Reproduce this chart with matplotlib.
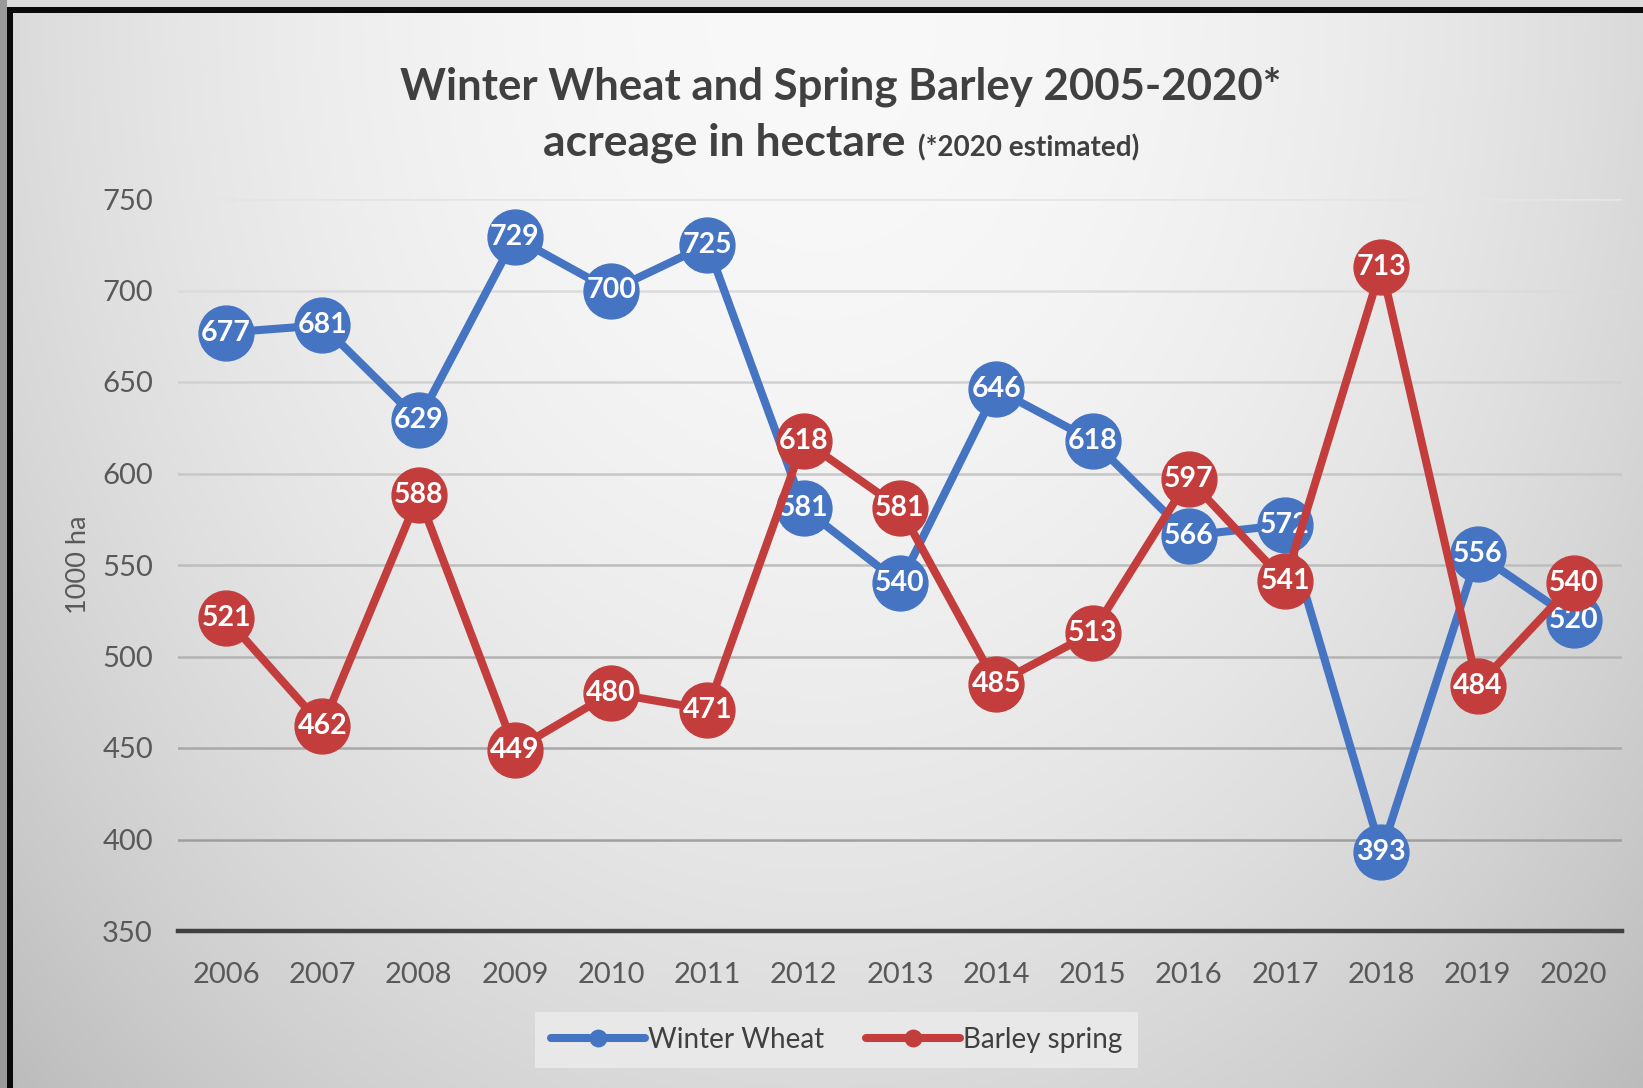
import numpy as np
import matplotlib
matplotlib.use("Agg")
import matplotlib.pyplot as plt
from matplotlib.patches import Rectangle

years = ["2006", "2007", "2008", "2009", "2010", "2011", "2012", "2013",
         "2014", "2015", "2016", "2017", "2018", "2019", "2020"]
winter_wheat = [677, 681, 629, 729, 700, 725, 581, 540, 646, 618, 566, 572, 393, 556, 520]
barley_spring = [521, 462, 588, 449, 480, 471, 618, 581, 485, 513, 597, 541, 713, 484, 540]
y_ticks = [350, 400, 450, 500, 550, 600, 650, 700, 750]

plt.rcParams['font.family'] = ['Lato', 'DejaVu Sans']

W, H = 1643, 1088
fig = plt.figure(figsize=(W / 100, H / 100), dpi=100)

# background gradient
bg = fig.add_axes([0, 0, 1, 1], zorder=-10)
gx, gy = np.meshgrid(np.linspace(0, 1, 400), np.linspace(1, 0, 300))
d2 = ((gx - 0.5) / 0.5) ** 2 + ((gy - 1.0) / 1.0) ** 2
val = np.clip(0.975 - 0.12 * d2, 0, 1)
bg.imshow(np.dstack([val, val, val]), aspect='auto', extent=[0, 1, 0, 1], interpolation='bilinear')
bg.set_xlim(0, 1); bg.set_ylim(0, 1); bg.axis('off')
# outer strip and black border (top and left)
bg.add_patch(Rectangle((0, 1 - 7 / H), 1, 7 / H, color='#dcdcdc', lw=0))
bg.add_patch(Rectangle((0, 0), 7 / W, 1, color='#9a9a9a', lw=0))
bg.add_patch(Rectangle((7 / W, 0), 6 / W, 1 - 7 / H, color='#0a0a0a', lw=0))
bg.add_patch(Rectangle((7 / W, 1 - 13 / H), 1, 6 / H, color='#0a0a0a', lw=0))

ax = fig.add_axes([178 / W, 1 - 931 / H, (1622 - 178) / W, (931 - 199) / H])
ax.set_facecolor('none')
x = np.arange(len(years))

blue = '#4574c3'
red = '#c43d3d'
ms = 39.5
lw = 5.8

ax.plot(x, winter_wheat, color=blue, lw=lw, marker='o', ms=ms, mec=blue, mfc=blue,
        zorder=3, label='Winter Wheat', solid_capstyle='round')
for xi, v in zip(x, winter_wheat):
    ax.text(xi, v, str(v), color='white', fontsize=20.5, fontweight='bold',
            ha='center', va='center', zorder=4)
ax.plot(x, barley_spring, color=red, lw=lw, marker='o', ms=ms, mec=red, mfc=red,
        zorder=5, label='Barley spring', solid_capstyle='round')
for xi, v in zip(x, barley_spring):
    ax.text(xi, v, str(v), color='white', fontsize=20.5, fontweight='bold',
            ha='center', va='center', zorder=6)

ax.set_xlim(-0.5, len(years) - 0.5)
ax.set_ylim(350, 750)
ax.set_xticks(x)
ax.set_xticklabels(years)
ax.set_yticks(y_ticks)
ax.tick_params(length=0, labelsize=21, labelcolor='#595959')
ax.tick_params(axis='x', pad=22)
ax.tick_params(axis='y', pad=18)
for s in ['top', 'right', 'left']:
    ax.spines[s].set_visible(False)
ax.spines['bottom'].set_color('#404040')
ax.spines['bottom'].set_linewidth(3.2)
ax.spines['bottom'].set_zorder(2)

ax.yaxis.grid(True, lw=1.8)
ax.set_axisbelow(True)
glines = ax.yaxis.get_gridlines()
for t, gl in zip(y_ticks, glines):
    f = (t - 350) / 400.0
    c = 0.58 + 0.32 * f
    gl.set_color((c, c, c))
    if t == 350:
        gl.set_visible(False)

fig.text(78 / W, 1 - 565 / H, '1000 ha', rotation=90, fontsize=19.5, color='#595959',
         ha='center', va='center')

# title
fig.text(841 / W, 1 - 87 / H, 'Winter Wheat and Spring Barley 2005-2020*', fontsize=31.5,
         fontweight='bold', color='#404040', ha='center', va='center')
t1 = fig.text(0, 1 - 141 / H, 'acreage in hectare', fontsize=32, fontweight='bold',
              color='#404040', ha='left', va='baseline')
t2 = fig.text(0, 1 - 141 / H, '(*2020 estimated)', fontsize=20, fontweight='bold',
              color='#404040', ha='left', va='baseline')
fig.canvas.draw()
r = fig.canvas.get_renderer()
w1 = t1.get_window_extent(r).width
w2 = t2.get_window_extent(r).width
gap = 12
total = w1 + gap + w2
x0 = 841 - total / 2
t1.set_position((x0 / W, 1 - 156 / H))
t2.set_position(((x0 + w1 + gap) / W, 1 - 156 / H))

leg = ax.legend(loc='center', bbox_to_anchor=(836.5 / W, 1 - 1040 / H),
                bbox_transform=fig.transFigure, ncol=2, frameon=True, fontsize=20,
                markerscale=0.3, handlelength=3.4, handletextpad=0.1, columnspacing=1.5,
                borderpad=0.55, fancybox=False, labelcolor='#404040')
leg.get_frame().set_facecolor('#e8e8e8')
leg.get_frame().set_edgecolor('none')
leg.get_frame().set_alpha(1)

fig.savefig('out.png', dpi=100)
